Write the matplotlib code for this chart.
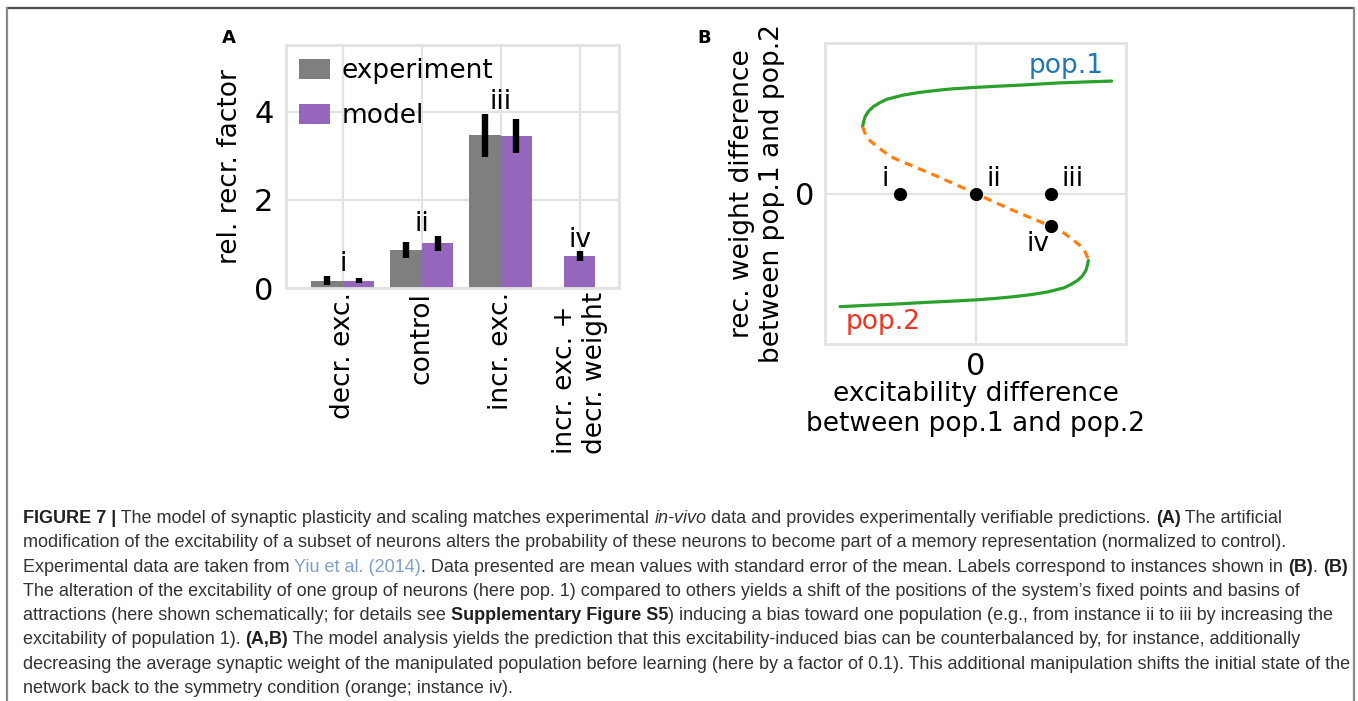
import numpy as np
import matplotlib
matplotlib.use("Agg")
import matplotlib.pyplot as plt
from matplotlib.lines import Line2D
from matplotlib import font_manager

# ---- panel A: relative recruitment factor ----
categories = ["decr. exc.", "control", "incr. exc.", "incr. exc. +\ndecr. weight"]
experiment = [0.17, 0.87, 3.47, np.nan]
experiment_err = [0.11, 0.18, 0.49, np.nan]
model = [0.17, 1.02, 3.45, 0.72]
model_err = [0.06, 0.17, 0.38, 0.11]
instance_labels = ["i", "ii", "iii", "iv"]

# ---- panel B: schematic fixed point curve (axis units, -1..1) ----
upper_x = [-0.750, -0.745, -0.734, -0.710, -0.679, -0.635, -0.590, -0.480, -0.369,
           -0.250, -0.148, 0.0, 0.150, 0.318, 0.540, 0.720, 0.905]
upper_y = [0.444, 0.470, 0.510, 0.548, 0.577, 0.604, 0.626, 0.654, 0.672,
           0.686, 0.696, 0.705, 0.713, 0.721, 0.734, 0.741, 0.747]
lower_x = [0.750, 0.745, 0.734, 0.710, 0.679, 0.635, 0.590, 0.480, 0.369,
           0.250, 0.148, 0.0, -0.150, -0.318, -0.540, -0.720, -0.900]
lower_y = [-0.444, -0.470, -0.510, -0.548, -0.577, -0.604, -0.626, -0.654, -0.672,
           -0.686, -0.696, -0.707, -0.715, -0.723, -0.735, -0.743, -0.752]
middle_x = [-0.750, -0.742, -0.728, -0.700, -0.650, -0.561, -0.429, -0.296, -0.150,
            0.0, 0.150, 0.296, 0.429, 0.561, 0.650, 0.700, 0.728, 0.742, 0.750]
middle_y = [0.444, 0.420, 0.387, 0.350, 0.309, 0.243, 0.187, 0.132, 0.068,
            0.0, -0.068, -0.132, -0.187, -0.243, -0.309, -0.350, -0.387, -0.420, -0.444]
points_x = [-0.5, 0.0, 0.5, 0.5]
points_y = [0.0, 0.0, 0.0, -0.215]

GRAY = "#7f7f7f"
PURPLE = "#9467bd"
GRID = "#e2e2e2"
FS = 19
NUM_FS = 22

W, H = 1358, 701
fig = plt.figure(figsize=(W / 100, H / 100), dpi=100)


def px(x, y):
    return x / W, 1 - y / H


def style_axes(ax):
    ax.set_facecolor("white")
    ax.set_axisbelow(True)
    ax.grid(True, color=GRID, lw=1.6)
    for s in ax.spines.values():
        s.set_color(GRID)
        s.set_linewidth(2)
    ax.tick_params(length=0, labelsize=FS)
    ax.tick_params(axis="y", labelsize=NUM_FS)


# ---------------- panel A ----------------
axA = fig.add_axes([286 / W, 1 - 288 / H, 333 / W, 243 / H])
style_axes(axA)
w = 0.4
xe, ve, ee, xm = [], [], [], []
for k in range(len(categories)):
    if np.isnan(experiment[k]):
        xm.append(k)
    else:
        xe.append(k - w / 2)
        ve.append(experiment[k])
        ee.append(experiment_err[k])
        xm.append(k + w / 2)
ekw = dict(elinewidth=4.6, ecolor="black", capsize=0)
axA.bar(xe, ve, w, color=GRAY, label="experiment", yerr=ee, error_kw=ekw)
axA.bar(xm, model, w, color=PURPLE, label="model", yerr=model_err, error_kw=ekw)
for k, lab in enumerate(instance_labels):
    tops = [model[k] + model_err[k]]
    if not np.isnan(experiment[k]):
        tops.append(experiment[k] + experiment_err[k])
    axA.text(k, max(tops) + 0.1, lab, ha="center", va="baseline", fontsize=FS)
axA.set_xlim(-0.72, 3.5)
axA.set_ylim(0, 5.52)
axA.set_yticks([0, 2, 4])
axA.set_xticks(range(len(categories)))
axA.set_xticklabels(categories, rotation=90, multialignment="left")
axA.tick_params(axis="x", pad=3)
axA.tick_params(axis="y", pad=9)
axA.set_ylabel("rel. recr. factor", fontsize=FS, labelpad=8)
axA.legend(loc="upper left", frameon=False, fontsize=FS, handlelength=1.15,
           handleheight=0.78, handletextpad=0.45, labelspacing=0.72,
           borderaxespad=0.1, bbox_to_anchor=(0.0, 1.0))
fig.text(*px(229, 38), "A", fontsize=13, fontweight="bold", ha="center", va="center")

# ---------------- panel B ----------------
axB = fig.add_axes([825 / W, 1 - 344 / H, 301 / W, 301 / H])
style_axes(axB)
axB.tick_params(axis="x", labelsize=NUM_FS)
axB.plot(upper_x, upper_y, color="#2ca02c", lw=2.3, solid_capstyle="round")
axB.plot(lower_x, lower_y, color="#2ca02c", lw=2.3, solid_capstyle="round")
axB.plot(middle_x, middle_y, color="#ff7f0e", lw=2.3, dashes=(2.6, 1.9))
axB.plot(points_x, points_y, "o", color="black", ms=8.5, zorder=5)
offsets = [(-11, 8, "right"), (11, 8, "left"), (11, 8, "left"), (-13, -25, "center")]
for (xx, yy), lab, (dx, dy, ha) in zip(zip(points_x, points_y), instance_labels, offsets):
    axB.annotate(lab, (xx, yy), xytext=(dx, dy), textcoords="offset pixels",
                 ha=ha, va="baseline", fontsize=FS)
axB.text(0.85, 0.80, "pop.1", color="#1f77b4", fontsize=FS, ha="right", va="baseline")
axB.text(-0.86, -0.90, "pop.2", color="#ee3322", fontsize=FS, ha="left", va="baseline")
axB.set_xlim(-1, 1)
axB.set_ylim(-1, 1)
axB.set_xticks([0])
axB.set_yticks([0])
axB.tick_params(axis="x", pad=6)
axB.tick_params(axis="y", pad=8)
axB.set_xlabel("excitability difference\nbetween pop.1 and pop.2", fontsize=FS, labelpad=0)
axB.set_ylabel("rec. weight difference\nbetween pop.1 and pop.2", fontsize=FS, labelpad=7)
fig.text(*px(704, 38), "B", fontsize=13, fontweight="bold", ha="center", va="center")

# ---------------- frame ----------------
fig.add_artist(Line2D([7 / W, 1354 / W], [1 - 8 / H, 1 - 8 / H], transform=fig.transFigure,
                      color="#4a4a4a", lw=1.6))
for xb in (7, 1354):
    fig.add_artist(Line2D([xb / W, xb / W], [0, 1 - 8 / H], transform=fig.transFigure,
                          color="#8a8a8a", lw=1.6))

# ---------------- caption ----------------
try:
    font_manager.findfont("Liberation Sans Narrow", fallback_to_default=False)
    CAP_FONT = "Liberation Sans Narrow"
except ValueError:
    CAP_FONT = "Liberation Sans"

TXT = "#333333"
BOLD = "#231f20"
LINK = "#7f9ec9"
N, B, I, L = "n", "b", "i", "l"
caption = [
    [("FIGURE 7 |", B), (" The model of synaptic plasticity and scaling matches experimental ", N),
     ("in-vivo", I), (" data and provides experimentally verifiable predictions. ", N),
     ("(A)", B), (" The artificial", N)],
    [("modification of the excitability of a subset of neurons alters the probability of these "
      "neurons to become part of a memory representation (normalized to control).", N)],
    [("Experimental data are taken from ", N), ("Yiu et al. (2014)", L),
     (". Data presented are mean values with standard error of the mean. Labels correspond "
      "to instances shown in ", N), ("(B)", B), (". ", N), ("(B)", B)],
    [("The alteration of the excitability of one group of neurons (here pop. 1) compared to "
      "others yields a shift of the positions of the system\u2019s fixed points and basins of", N)],
    [("attractions (here shown schematically; for details see ", N),
     ("Supplementary Figure S5", B),
     (") inducing a bias toward one population (e.g., from instance ii to iii by increasing the", N)],
    [("excitability of population 1). ", N), ("(A,B)", B),
     (" The model analysis yields the prediction that this excitability-induced bias can be "
      "counterbalanced by, for instance, additionally", N)],
    [("decreasing the average synaptic weight of the manipulated population before learning "
      "(here by a factor of 0.1). This additional manipulation shifts the initial state of the", N)],
    [("network back to the symmetry condition (orange; instance iv).", N)],
]


def seg_props(kind, size):
    p = dict(fontsize=size, family=CAP_FONT, va="baseline", ha="left", color=TXT)
    if kind == B:
        p.update(fontweight="bold", color=BOLD)
    elif kind == I:
        p.update(fontstyle="italic")
    elif kind == L:
        p.update(color=LINK)
    return p


renderer = fig.canvas.get_renderer()


def draw_line(segs, x0, y0, size):
    x = x0
    for text, kind in segs:
        t = fig.text(x / W, 1 - y0 / H, text, **seg_props(kind, size))
        bb = t.get_window_extent(renderer)
        x = bb.x1
    return x - x0


# fit font size so the first line spans the same width as in the figure
trial = 11
probe = []
xx = 0
for text, kind in caption[0]:
    t = fig.text(0, 0, text, **seg_props(kind, trial))
    xx += t.get_window_extent(renderer).width
    probe.append(t)
for t in probe:
    t.remove()
cap_size = trial * 1252 / xx

for n, segs in enumerate(caption):
    draw_line(segs, 23, 523 + n * 24.3, cap_size)

fig.savefig("out.png", dpi=100)
